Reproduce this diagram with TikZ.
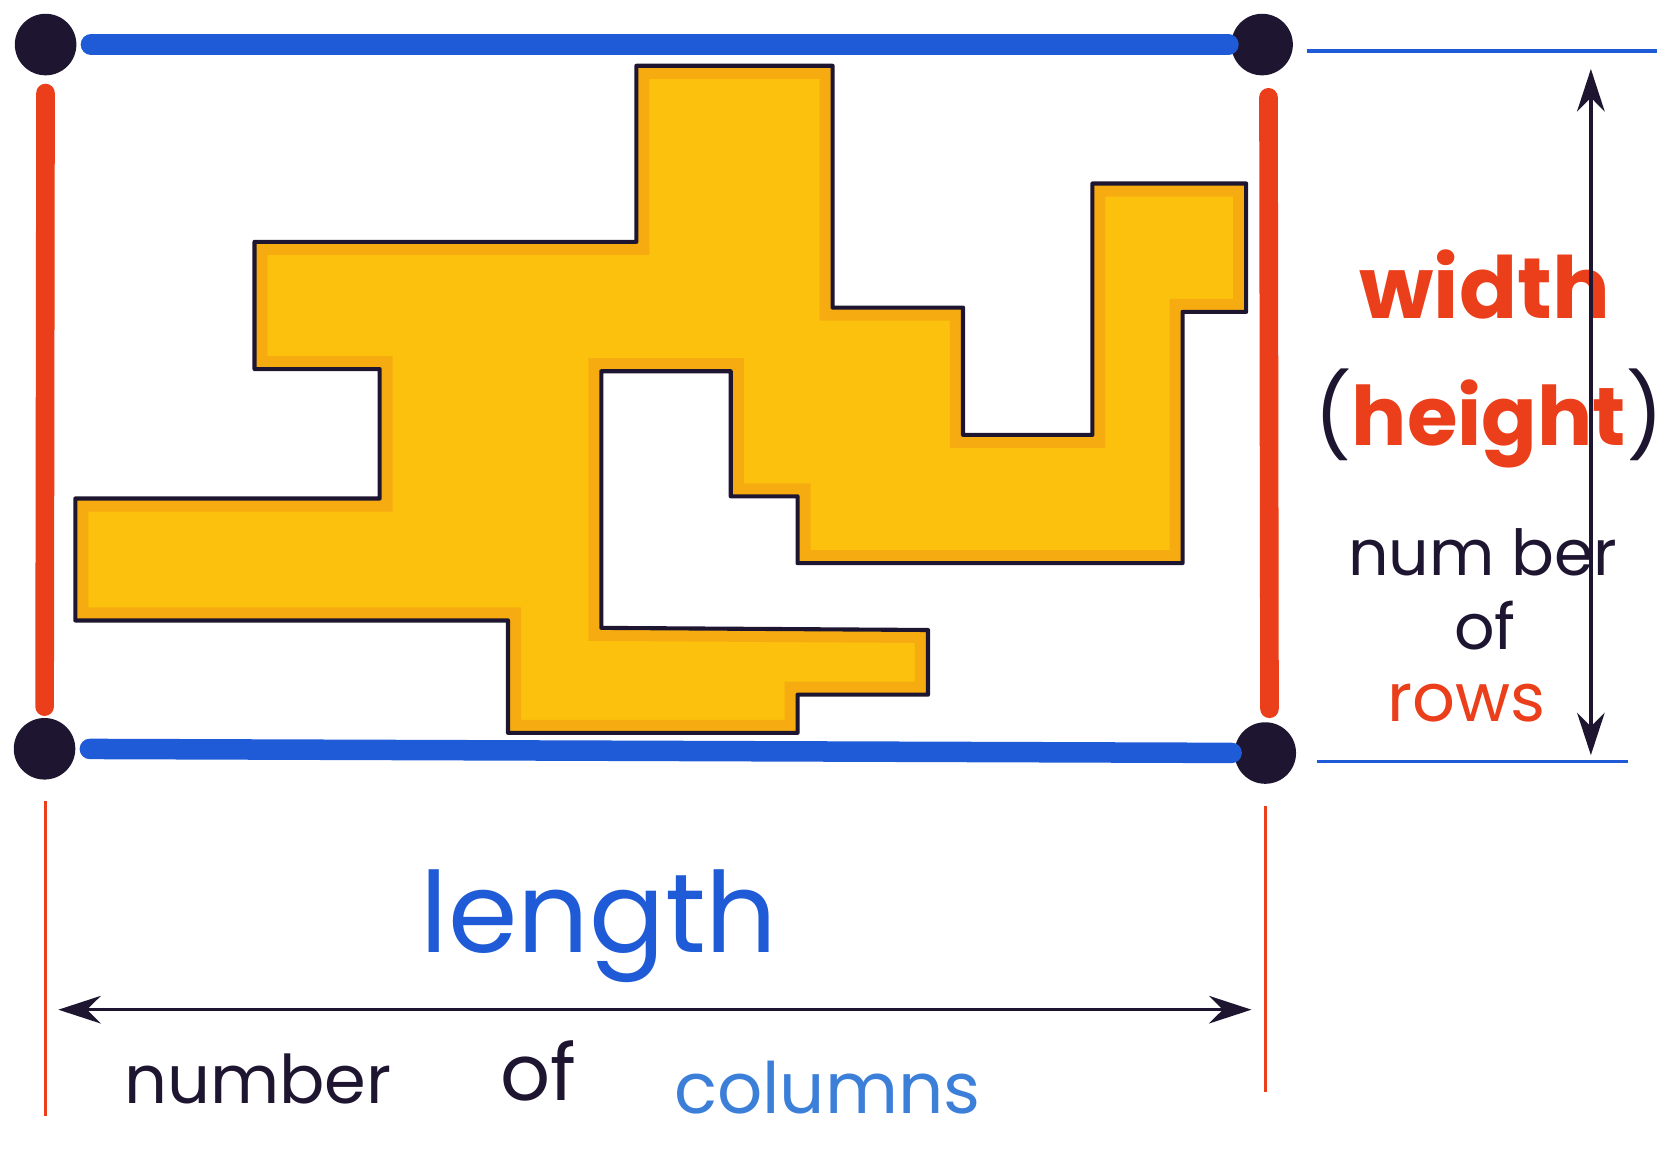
\documentclass[tikz,border=0pt]{standalone}
\usepackage{fontspec}
\setmainfont{Poppins}
\usetikzlibrary{arrows.meta}
\definecolor{pen}{HTML}{1E1630}
\definecolor{bluemark}{HTML}{1F5BD6}
\definecolor{lightblue}{HTML}{3C7FD8}
\definecolor{redmark}{HTML}{EA3F1A}
\definecolor{yellowmark}{HTML}{FBC10C}
\definecolor{orangemark}{HTML}{F39A14}
\newcommand\pieceoutline{(600,62) -- (785,62) -- (785,290) -- (908,290) -- (908,410) -- (1030,410) -- (1030,173) -- (1175,173) -- (1175,294) -- (1115,294) -- (1115,531) -- (752,531) -- (752,468) -- (689,468) -- (689,350) -- (567,350) -- (567,592) -- (875,594) -- (875,655) -- (752,655) -- (752,691) -- (479,691) -- (479,585) -- (71,585) -- (71,470) -- (358,470) -- (358,348) -- (240,348) -- (240,228) -- (600,228) -- cycle}

\begin{document}
\begin{tikzpicture}[
  x=0.01cm,
  y=-0.01cm,
  dot/.style={circle, fill=pen, minimum size=0.58cm, inner sep=0pt},
  blueline/.style={draw=bluemark, line width=5.5pt, line cap=round},
  redline/.style={draw=redmark, line width=5pt, line cap=round},
  thinblue/.style={draw=bluemark, line width=0.9pt},
  thinred/.style={draw=redmark, line width=0.8pt},
  dimarrow/.style={{Stealth[length=4mm,width=2.6mm]}-{Stealth[length=4mm,width=2.6mm]}, draw=pen, line width=0.9pt},
  handtext/.style={anchor=base, inner sep=0pt}
]
  \useasboundingbox (0,0) rectangle (1568,1093);

  % the yellow piece
  \begin{scope}
    \clip \pieceoutline;
    \fill[yellowmark] (0,0) rectangle (1568,1093);
    \draw[orangemark, line width=7pt, opacity=0.55] \pieceoutline;
  \end{scope}
  \draw[pen, line width=1.1pt, line join=round] \pieceoutline;

  % corners and sides
  \node[dot] (tl) at (43,42) {};
  \node[dot] (tr) at (1190,42) {};
  \node[dot] (bl) at (42,706) {};
  \node[dot] (br) at (1193,710) {};

  \draw[blueline, shorten <=0.13cm, shorten >=0.02cm] (tl) -- (tr);
  \draw[blueline, shorten <=0.13cm, shorten >=0.02cm] (bl) -- (br);
  \draw[redline, shorten <=0.16cm, shorten >=0.1cm] (tl) -- (bl);
  \draw[redline, shorten <=0.2cm, shorten >=0.12cm] ([xshift=0.06cm]tr.south) -- ([xshift=0.04cm]br.north);

  % width dimension
  \coordinate (wtopa) at (1232,48);
  \coordinate (wtopb) at (1562,48);
  \coordinate (wbota) at (1242,718);
  \coordinate (wbotb) at (1535,718);
  \coordinate (wup) at (1500,65);
  \coordinate (wdown) at (1500,712);
  \draw[thinblue] (wtopa) -- (wtopb);
  \draw[thinblue] (wbota) -- (wbotb);

  \node[handtext, text=redmark, font=\fontsize{23}{23}\selectfont\bfseries] (width) at (1400,300) {width};
  \node[handtext, text=redmark, font=\fontsize{22}{22}\selectfont\bfseries] (height) at (1404,420) {\textcolor{pen}{\mdseries(}height\textcolor{pen}{\mdseries)}};
  \node[handtext, text=pen, font=\fontsize{17}{17}\selectfont] (rnumber) at (1398,543) {num ber};
  \node[handtext, text=pen, font=\fontsize{17}{17}\selectfont] (rof) at (1400,612) {of};
  \node[handtext, text=redmark, font=\fontsize{18}{18}\selectfont] (rows) at (1383,680) {rows};

  \draw[dimarrow] (wup) -- (wdown);

  % length dimension
  \coordinate (lefta) at (43,755);
  \coordinate (leftb) at (43,1052);
  \coordinate (righta) at (1193,760);
  \coordinate (rightb) at (1193,1030);
  \coordinate (lenl) at (55,952);
  \coordinate (lenr) at (1180,952);
  \draw[thinred] (lefta) -- (leftb);
  \draw[thinred] (righta) -- (rightb);
  \draw[dimarrow] (lenl) -- (lenr);

  \node[handtext, text=bluemark, font=\fontsize{30}{30}\selectfont] (length) at (565,898) {length};
  \node[handtext, text=pen, font=\fontsize{18}{18}\selectfont] (cnumber) at (243,1040) {number};
  \node[handtext, text=pen, font=\fontsize{21}{21}\selectfont] (cof) at (508,1038) {of};
  \node[handtext, text=lightblue, font=\fontsize{19}{19}\selectfont] (columns) at (780,1050) {columns};
\end{tikzpicture}
\end{document}
